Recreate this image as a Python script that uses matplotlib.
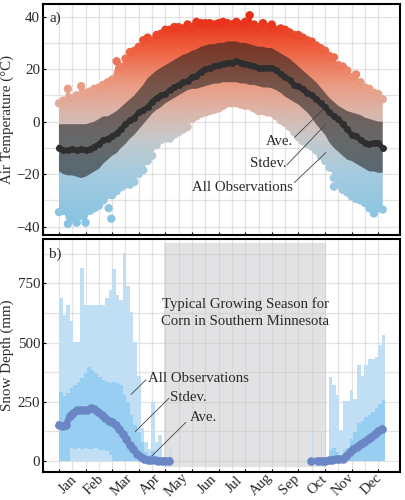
"""Daily air temperature and snow depth climatology, two stacked panels."""
import numpy as np
import matplotlib
matplotlib.use('Agg')
import matplotlib.pyplot as plt
from matplotlib.colors import LinearSegmentedColormap, Normalize

plt.rcParams['font.family'] = ['Liberation Serif', 'DejaVu Serif']

MONTHS = ['Jan', 'Feb', 'Mar', 'Apr', 'May', 'Jun', 'Jul', 'Aug', 'Sep', 'Oct', 'Nov', 'Dec']
MONTH_POS = [10, 40, 71, 103, 133, 167, 198, 228, 260, 291, 320, 352]

# panel a, read every 5 days (day 0 to 365)
TEMP_DAYS = np.arange(0, 370, 5)
OBS_MAX = [7, 8, 12.5, 9, 10, 13.5, 11, 11.5, 12.5, 13, 14, 15, 16, 23, 21, 24, 26.5, 27, 28.5, 31,
           32, 31, 33, 33.5, 35, 35, 36, 36, 35.5, 37, 36, 38, 37.5, 37.5, 37.5, 37, 37.5, 38, 37.5, 37,
           38, 37, 38, 40.5, 37, 36, 37.5, 36, 37, 35, 35.5, 35, 34, 33, 33, 32, 31, 30.5, 29, 28,
           27, 25, 24.5, 21.5, 21, 19.5, 17, 18, 15, 13, 12.5, 11, 10.5, 8.5]
OBS_MIN = [-34.5, -34, -39, -37, -38.5, -36, -38.5, -34, -33, -32, -30, -28, -28, -26.5, -25, -24, -24, -23, -20, -18.5,
           -15, -13, -9, -7, -6.5, -6.5, -5, -4, -3, -2, 1, 2, 3, 3.5, 4, 4.5, 5, 6, 7, 7,
           7, 6.5, 6, 6, 5, 4, 4, 3.5, 3.3, 2, 0.5, -0.5, -2, -4, -6, -7.5, -8.5, -9.5, -11, -13,
           -15, -17.5, -21.5, -24, -26, -27, -28.5, -29.5, -30, -31, -33, -35, -33, -33.5]
OUT_DAYS = [56, 59, 310]
OUT_TEMP = [-33, -37, -24.8]
STD_HI = [-1, -1, -1, -1, -1, -1, -1, -.5, 0, 1, 2, 2, 3, 4, 5.5, 7, 8.5, 10, 12, 14,
          16.5, 18, 19.5, 20.5, 21.5, 22.5, 23.5, 24.5, 25.5, 26, 27, 27.5, 28.5, 29, 29.5, 29.5, 30, 30, 30.5, 30.5,
          30.5, 30, 30, 29.5, 29, 28.5, 28.5, 28, 28, 27, 26, 25, 24, 22.5, 21, 19.5, 18, 16.5, 15, 13,
          11, 9, 7.5, 6, 5, 4, 3.5, 3, 2.5, 1.5, 1, .5, 0, 0]
STD_LO = [-19, -20, -20.5, -20.5, -21, -21.5, -21, -20, -19, -18, -16, -14.5, -13, -12, -10, -8.5, -6.5, -5, -3, -1,
          1, 3, 4.5, 5.5, 7, 8, 9, 10, 11, 12, 12.5, 12.5, 13, 13.5, 14, 14.5, 14.5, 15, 15, 15,
          15, 14.5, 14.5, 14, 14, 13.5, 13, 13, 12.7, 12, 11, 9.5, 8.5, 7.5, 6.5, 5, 3.5, 1.5, -1, -3,
          -5, -8, -10, -11.5, -13, -14.5, -15, -16, -17, -18, -19, -19, -19.5, -19.5]
TEMP_AVE = [-10, -11, -11, -10.5, -11, -10.5, -11, -10.5, -9.5, -8.5, -7, -6.5, -5.5, -4.5, -3, -1, .5, 1.5, 3.5, 4.5,
            5.5, 7.5, 9, 10, 10.5, 12, 13, 14, 15, 15.5, 17, 17.5, 19, 20, 20.5, 21, 21.5, 22, 22.5, 22.5,
            23, 22.5, 22, 21.5, 21, 20.5, 20.5, 20.5, 20.5, 19.5, 18, 17, 16, 14, 13.5, 12.5, 11, 10, 8.5, 7,
            5.5, 3.5, 2, 1, -1, -3, -5, -5.5, -7, -8, -8.5, -8, -8, -10]

# panel b, read every 4 days
SPRING_DAYS = np.arange(0, 128, 4)
SPRING_MAX = [688, 617, 660, 590, 504, 504, 815, 660, 660, 660, 660, 660, 660, 690, 722, 810,
              700, 680, 880, 740, 630, 504, 360, 137, 80, 50, 250, 80, 108, 0, 0, 50]
SPRING_STD_HI = [292, 275, 285, 306, 320, 335, 349, 370, 398, 385, 372, 355, 340, 335, 330, 335,
                 330, 320, 278, 250, 193, 150, 123, 80, 38, 25, 40, 15, 10, 5, 3, 0]
SPRING_STD_LO = [0, 0, 0, 52, 50, 55, 50, 52, 48, 50, 52, 46, 45, 40, 25, 0,
                 0, 0, 0, 0, 0, 0, 0, 0, 0, 0, 0, 0, 0, 0, 0, 0]
SPRING_AVE = [151, 145, 150, 188, 200, 215, 215, 213, 215, 222, 218, 208, 195, 180, 170, 165,
              150, 135, 112, 90, 68, 50, 30, 17, 8, 3, 2, 1, 0, 0, 0, 0]
FALL_DAYS = np.arange(304, 368, 4)
FALL_MAX = [356, 320, 280, 130, 254, 254, 300, 260, 405, 360, 405, 430, 430, 440, 490, 530]
FALL_STD_HI = [45, 52, 35, 25, 45, 52, 90, 120, 160, 170, 186, 195, 207, 225, 240, 257]
SPIKE_DAYS = [285, 295]
SPIKE_MAX = [120, 120]
FALL_AVE_DAYS = [284, 292, 296, 300, 304, 308, 312, 316, 320, 324, 328, 332, 336, 340, 344, 348, 352, 356, 360, 364]
FALL_AVE = [0, 0, 0, 0, 3, 5, 8, 7, 8, 20, 35, 48, 60, 72, 80, 90, 100, 112, 125, 135]

TEXT = '#2a2a2a'
GRID = '#cccccc'
OBS_LIGHT = '#c0dff5'
STD_BLUE = '#97cef1'
AVE_BLUE = '#6a86c5'

cmap = LinearSegmentedColormap.from_list('temp', [
    (0.0, '#86c3e2'), (0.25, '#a4cbe0'), (0.42, '#c6c9cb'), (0.55, '#dcb4a8'),
    (0.68, '#eb9b82'), (0.85, '#ef5f3e'), (1.0, '#e62c14')])
norm = Normalize(-40, 40)


def style(ax, ymin, ymax, yticks, ygrid):
    ax.set_xlim(-18, 384.5)
    ax.set_ylim(ymin, ymax)
    ax.set_xticks(np.arange(0, 375, 30))
    ax.set_xticks(np.arange(0, 375, 15), minor=True)
    ax.set_yticks(yticks)
    ax.set_yticks(ygrid, minor=True)
    ax.grid(True, which='both', color=GRID, linewidth=0.9, alpha=0.55, zorder=1)
    ax.set_axisbelow(True)
    ax.tick_params(which='minor', length=0)
    ax.tick_params(which='major', direction='in', length=2.5, width=0.8, labelsize=10.8,
                   labelcolor=TEXT, pad=2)
    ax.tick_params(axis='x', labelbottom=False)
    for s in ax.spines.values():
        s.set_linewidth(1.5)


def note(ax, text, tx, ty, x0, y0, x1, y1, ha='center'):
    ax.text(tx, ty, text, fontsize=10.6, color=TEXT, ha=ha, va='center', zorder=8)
    ax.plot([x0, x1], [y0, y1], color='#444444', linewidth=0.6, zorder=8)


fig = plt.figure(figsize=(4.05, 5.0), dpi=100)
ax_a = fig.add_axes([43 / 405, 265 / 500, 357 / 405, 231 / 500])
ax_b = fig.add_axes([43 / 405, 28.3 / 500, 357 / 405, 232.7 / 500])

# a) all observations: gradient clipped to the envelope, bumpy edge from markers
style(ax_a, -43.2, 44.8, [-40, -20, 0, 20, 40], np.arange(-40, 50, 10))
env = ax_a.fill_between(TEMP_DAYS, OBS_MIN, OBS_MAX, color='none', linewidth=0)
grad = np.linspace(-45, 45, 256).reshape(-1, 1)
im = ax_a.imshow(grad, extent=[-18, 384.5, -45, 45], origin='lower', aspect='auto',
                 cmap=cmap, norm=norm, zorder=2)
im.set_clip_path(env.get_paths()[0], transform=ax_a.transData)
ax_a.set_xlim(-18, 384.5)
ax_a.set_ylim(-43.2, 44.8)
for ys in (OBS_MAX, OBS_MIN):
    ax_a.scatter(TEMP_DAYS, ys, c=ys, cmap=cmap, norm=norm, s=36, linewidths=0, zorder=3)
ax_a.scatter(OUT_DAYS, OUT_TEMP, c=OUT_TEMP, cmap=cmap, norm=norm, s=36, linewidths=0, zorder=3)

ax_a.fill_between(TEMP_DAYS, STD_LO, STD_HI, color='#1c1c1c', alpha=0.56, edgecolor='none', zorder=4)
ax_a.plot(TEMP_DAYS, TEMP_AVE, color='#2e2e2e', linewidth=3.6, zorder=5)
ax_a.scatter(TEMP_DAYS, TEMP_AVE, color='#2e2e2e', s=25, linewidths=0, zorder=5)

note(ax_a, 'Ave.', 249, -7.4, 265.5, -6, 299, 5)
note(ax_a, 'Stdev.', 235.5, -15.9, 257, -16.5, 300, -1.3)
note(ax_a, 'All Observations', 207, -25, 265.5, -23.2, 301, -11.8)
ax_a.text(-11, 39.5, 'a)', fontsize=10.8, color=TEXT, va='center')
ax_a.set_ylabel('Air Temperature (°C)', fontsize=10.8, color=TEXT)
ax_a.yaxis.set_label_coords(-0.08, 0.5)

# b) snow depth
style(ax_b, -46.5, 938, [0, 250, 500, 750], np.arange(0, 1000, 125))
ax_b.fill_between([118, 301], -25, 920, color='#e2e2e4', linewidth=0, zorder=0.5)
ax_b.bar(SPRING_DAYS, SPRING_MAX, width=4, align='edge', color=OBS_LIGHT, linewidth=0, zorder=2)
ax_b.bar(FALL_DAYS, FALL_MAX, width=4, align='edge', color=OBS_LIGHT, linewidth=0, zorder=2)
ax_b.vlines(SPIKE_DAYS, 0, SPIKE_MAX, color=OBS_LIGHT, linewidth=0.8, zorder=2)
ax_b.bar(SPRING_DAYS, np.array(SPRING_STD_HI) - np.array(SPRING_STD_LO), bottom=SPRING_STD_LO,
         width=4, align='edge', color=STD_BLUE, linewidth=0, zorder=3)
ax_b.bar(FALL_DAYS, FALL_STD_HI, width=4, align='edge', color=STD_BLUE, linewidth=0, zorder=3)
ax_b.plot(SPRING_DAYS, SPRING_AVE, color=AVE_BLUE, linewidth=4.5, zorder=5)
ax_b.plot(FALL_AVE_DAYS[1:], FALL_AVE[1:], color=AVE_BLUE, linewidth=4.5, zorder=5)
ax_b.scatter(SPRING_DAYS, SPRING_AVE, color=AVE_BLUE, s=38, linewidths=0, zorder=5)
ax_b.scatter(FALL_AVE_DAYS, FALL_AVE, color=AVE_BLUE, s=38, linewidths=0, zorder=5)

note(ax_b, 'All Observations', 100, 349, 81.4, 281, 98, 342, ha='left')
note(ax_b, 'Stdev.', 125.6, 267, 86, 123, 124, 264, ha='left')
note(ax_b, 'Ave.', 148, 182, 105, 21, 143, 162, ha='left')
ax_b.text(210, 662, 'Typical Growing Season for', fontsize=10.6, color=TEXT, ha='center', va='center', zorder=8)
ax_b.text(210, 589, 'Corn in Southern Minnesota', fontsize=10.6, color=TEXT, ha='center', va='center', zorder=8)
ax_b.text(-11, 875, 'b)', fontsize=10.8, color=TEXT, va='center')
ax_b.set_ylabel('Snow Depth (mm)', fontsize=10.8, color=TEXT)
ax_b.yaxis.set_label_coords(-0.08, 0.5)

trans = ax_b.get_xaxis_transform()
for name, pos in zip(MONTHS, MONTH_POS):
    ax_b.text(pos, -0.055, name, transform=trans, rotation=45, ha='center', va='center',
              fontsize=10.6, color=TEXT, clip_on=False)

fig.savefig('out.png', dpi=100)
